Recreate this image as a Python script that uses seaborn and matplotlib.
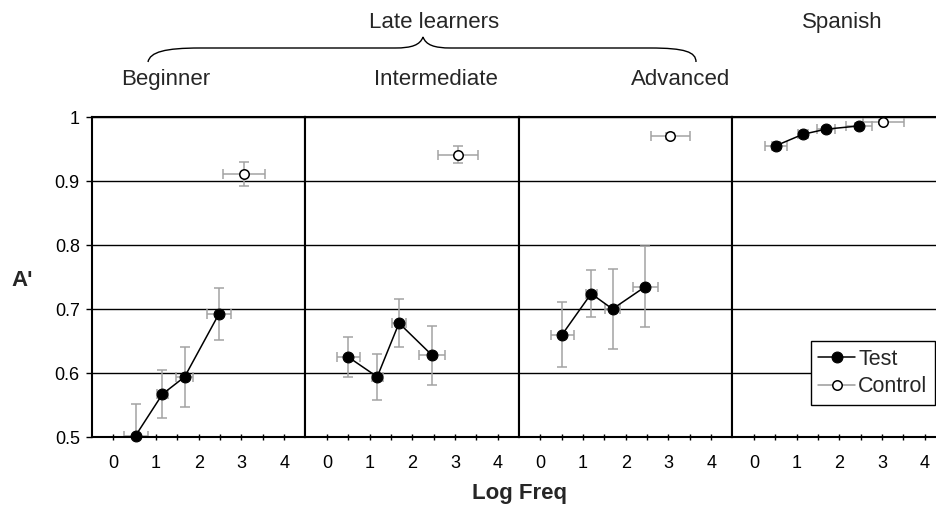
import matplotlib
matplotlib.use("Agg")
import matplotlib.pyplot as plt
from matplotlib.path import Path
from matplotlib.patches import PathPatch
import seaborn as sns
import pandas as pd

# ---------------- data ----------------
groups = ["Beginner", "Intermediate", "Advanced", "Spanish"]

test_logfreq = [[0.52, 1.15, 1.67, 2.47],
                [0.50, 1.18, 1.69, 2.46],
                [0.51, 1.19, 1.69, 2.46],
                [0.51, 1.15, 1.69, 2.46]]
test_logfreq_err = [[0.28, 0.12, 0.20, 0.28],
                    [0.27, 0.13, 0.17, 0.30],
                    [0.27, 0.13, 0.18, 0.30],
                    [0.26, 0.12, 0.20, 0.30]]
test_aprime = [[0.502, 0.567, 0.594, 0.692],
               [0.625, 0.594, 0.678, 0.628],
               [0.660, 0.724, 0.700, 0.735],
               [0.955, 0.973, 0.981, 0.986]]
test_aprime_err = [[0.050, 0.037, 0.047, 0.041],
                   [0.031, 0.036, 0.038, 0.046],
                   [0.051, 0.037, 0.062, 0.063],
                   [0.006, 0.005, 0.004, 0.004]]

control_logfreq = [3.05, 3.07, 3.04, 3.03]
control_logfreq_err = [0.49, 0.47, 0.46, 0.48]
control_aprime = [0.911, 0.941, 0.970, 0.992]
control_aprime_err = [0.019, 0.013, 0.005, 0.003]

y_ticks = [0.5, 0.6, 0.7, 0.8, 0.9, 1.0]
y_tick_labels = ["0.5", "0.6", "0.7", "0.8", "0.9", "1"]
x_ticks = [0, 1, 2, 3, 4]
x_minor_ticks = [0.5, 1.5, 2.5, 3.5]

# ---------------- style ----------------
sns.set_theme(style="white")
plt.rcParams["font.family"] = ["Liberation Sans", "DejaVu Sans"]

W, H = 937, 516
fig = plt.figure(figsize=(W / 100, H / 100), dpi=100)

left0, pw, top, bot = 92, 213.5, 117, 437
err_col = "#a3a3a3"

axes = []
for i, g in enumerate(groups):
    ax = fig.add_axes([(left0 + i * pw) / W, 1 - bot / H, pw / W, (bot - top) / H])
    axes.append(ax)
    ax.set_xlim(-0.5, 4.5)
    ax.set_ylim(0.5, 1.0)

    # error bars (test) - clipped at the axes like the original
    ax.errorbar(test_logfreq[i], test_aprime[i],
                xerr=test_logfreq_err[i], yerr=test_aprime_err[i],
                fmt="none", ecolor=err_col, elinewidth=1.1,
                capsize=3.3, capthick=1.1, zorder=2)
    # error bars (control)
    eb2 = ax.errorbar([control_logfreq[i]], [control_aprime[i]],
                      xerr=[control_logfreq_err[i]], yerr=[control_aprime_err[i]],
                      fmt="none", ecolor=err_col, elinewidth=1.1,
                      capsize=3.3, capthick=1.1, zorder=2)
    for art in eb2.get_children():
        art.set_clip_on(False)

    df_test = pd.DataFrame({"logfreq": test_logfreq[i], "aprime": test_aprime[i]})
    sns.lineplot(data=df_test, x="logfreq", y="aprime", ax=ax, sort=False,
                 color="black", linewidth=1.1, marker="o", markersize=7.8,
                 markeredgecolor="black", markerfacecolor="black",
                 markeredgewidth=0.8, label="Test", zorder=4, clip_on=False,
                 errorbar=None)
    df_ctrl = pd.DataFrame({"logfreq": [control_logfreq[i]],
                            "aprime": [control_aprime[i]]})
    sns.lineplot(data=df_ctrl, x="logfreq", y="aprime", ax=ax,
                 color="#9a9a9a", linewidth=1.1, marker="o", markersize=6.8,
                 markeredgecolor="black", markerfacecolor="white",
                 markeredgewidth=1.1, label="Control", zorder=4, clip_on=False,
                 errorbar=None)

    ax.set_xlabel("")
    ax.set_ylabel("")
    leg = ax.get_legend()
    if leg is not None:
        leg.remove()

    # grid + spines
    ax.set_yticks(y_ticks)
    ax.yaxis.grid(True, color="black", linewidth=1.0)
    ax.xaxis.grid(False)
    ax.set_axisbelow(True)
    for s in ax.spines.values():
        s.set_visible(True)
        s.set_color("black")
        s.set_linewidth(1.5)

    ax.set_xticks(x_ticks)
    ax.set_xticklabels([str(t) for t in x_ticks])
    ax.set_xticks(x_minor_ticks, minor=True)
    ax.tick_params(axis="x", which="both", direction="inout", length=4.6,
                   width=1.0, color="black", bottom=True, top=False,
                   labelsize=13, pad=10.5, labelcolor="black")
    if i == 0:
        ax.set_yticklabels(y_tick_labels)
        ax.tick_params(axis="y", direction="out", length=4.3, width=1.0,
                       color="black", left=True, labelsize=13, pad=4.5,
                       labelcolor="black")
    else:
        ax.tick_params(axis="y", left=False, labelleft=False)

# legend on the last panel
h, l = axes[3].get_legend_handles_labels()
leg = axes[3].legend(h, l, loc="lower right", bbox_to_anchor=(0.948, 0.1),
                     frameon=True, fancybox=False, edgecolor="black",
                     framealpha=1.0, fontsize=15.5, handlelength=1.7,
                     handletextpad=0.15, borderpad=0.35, labelspacing=0.3,
                     borderaxespad=0.0)
leg.get_frame().set_linewidth(1.0)
leg.set_zorder(10)

# axis titles
fig.text(22 / W, 1 - 281 / H, "A'", ha="center", va="center",
         fontsize=16, fontweight="bold")
fig.text(520 / W, 1 - 494 / H, "Log Freq", ha="center", va="center",
         fontsize=16, fontweight="bold")

# group labels
fig.text(166 / W, 1 - 85 / H, "Beginner", ha="center", va="baseline", fontsize=16)
fig.text(436 / W, 1 - 85 / H, "Intermediate", ha="center", va="baseline", fontsize=16)
fig.text(681 / W, 1 - 85 / H, "Advanced", ha="center", va="baseline", fontsize=16)
fig.text(434 / W, 1 - 28 / H, "Late learners", ha="center", va="baseline", fontsize=16)
fig.text(842 / W, 1 - 28 / H, "Spanish", ha="center", va="baseline", fontsize=16)

# curly brace over the late-learner panels
pts = [(148, 62), (150, 52), (165, 48), (200, 48),
       (395, 48),
       (412, 48), (420, 45), (423, 37),
       (426, 45), (434, 48), (451, 48),
       (650, 48),
       (685, 48), (696, 52), (696, 62)]
codes = [Path.MOVETO, Path.CURVE4, Path.CURVE4, Path.CURVE4,
         Path.LINETO,
         Path.CURVE4, Path.CURVE4, Path.CURVE4,
         Path.CURVE4, Path.CURVE4, Path.CURVE4,
         Path.LINETO,
         Path.CURVE4, Path.CURVE4, Path.CURVE4]
verts = [(x / W, 1 - y / H) for x, y in pts]
fig.patches.append(PathPatch(Path(verts, codes), transform=fig.transFigure,
                             fill=False, edgecolor="black", linewidth=1.0))

fig.savefig("out.png", dpi=100, facecolor="white")
